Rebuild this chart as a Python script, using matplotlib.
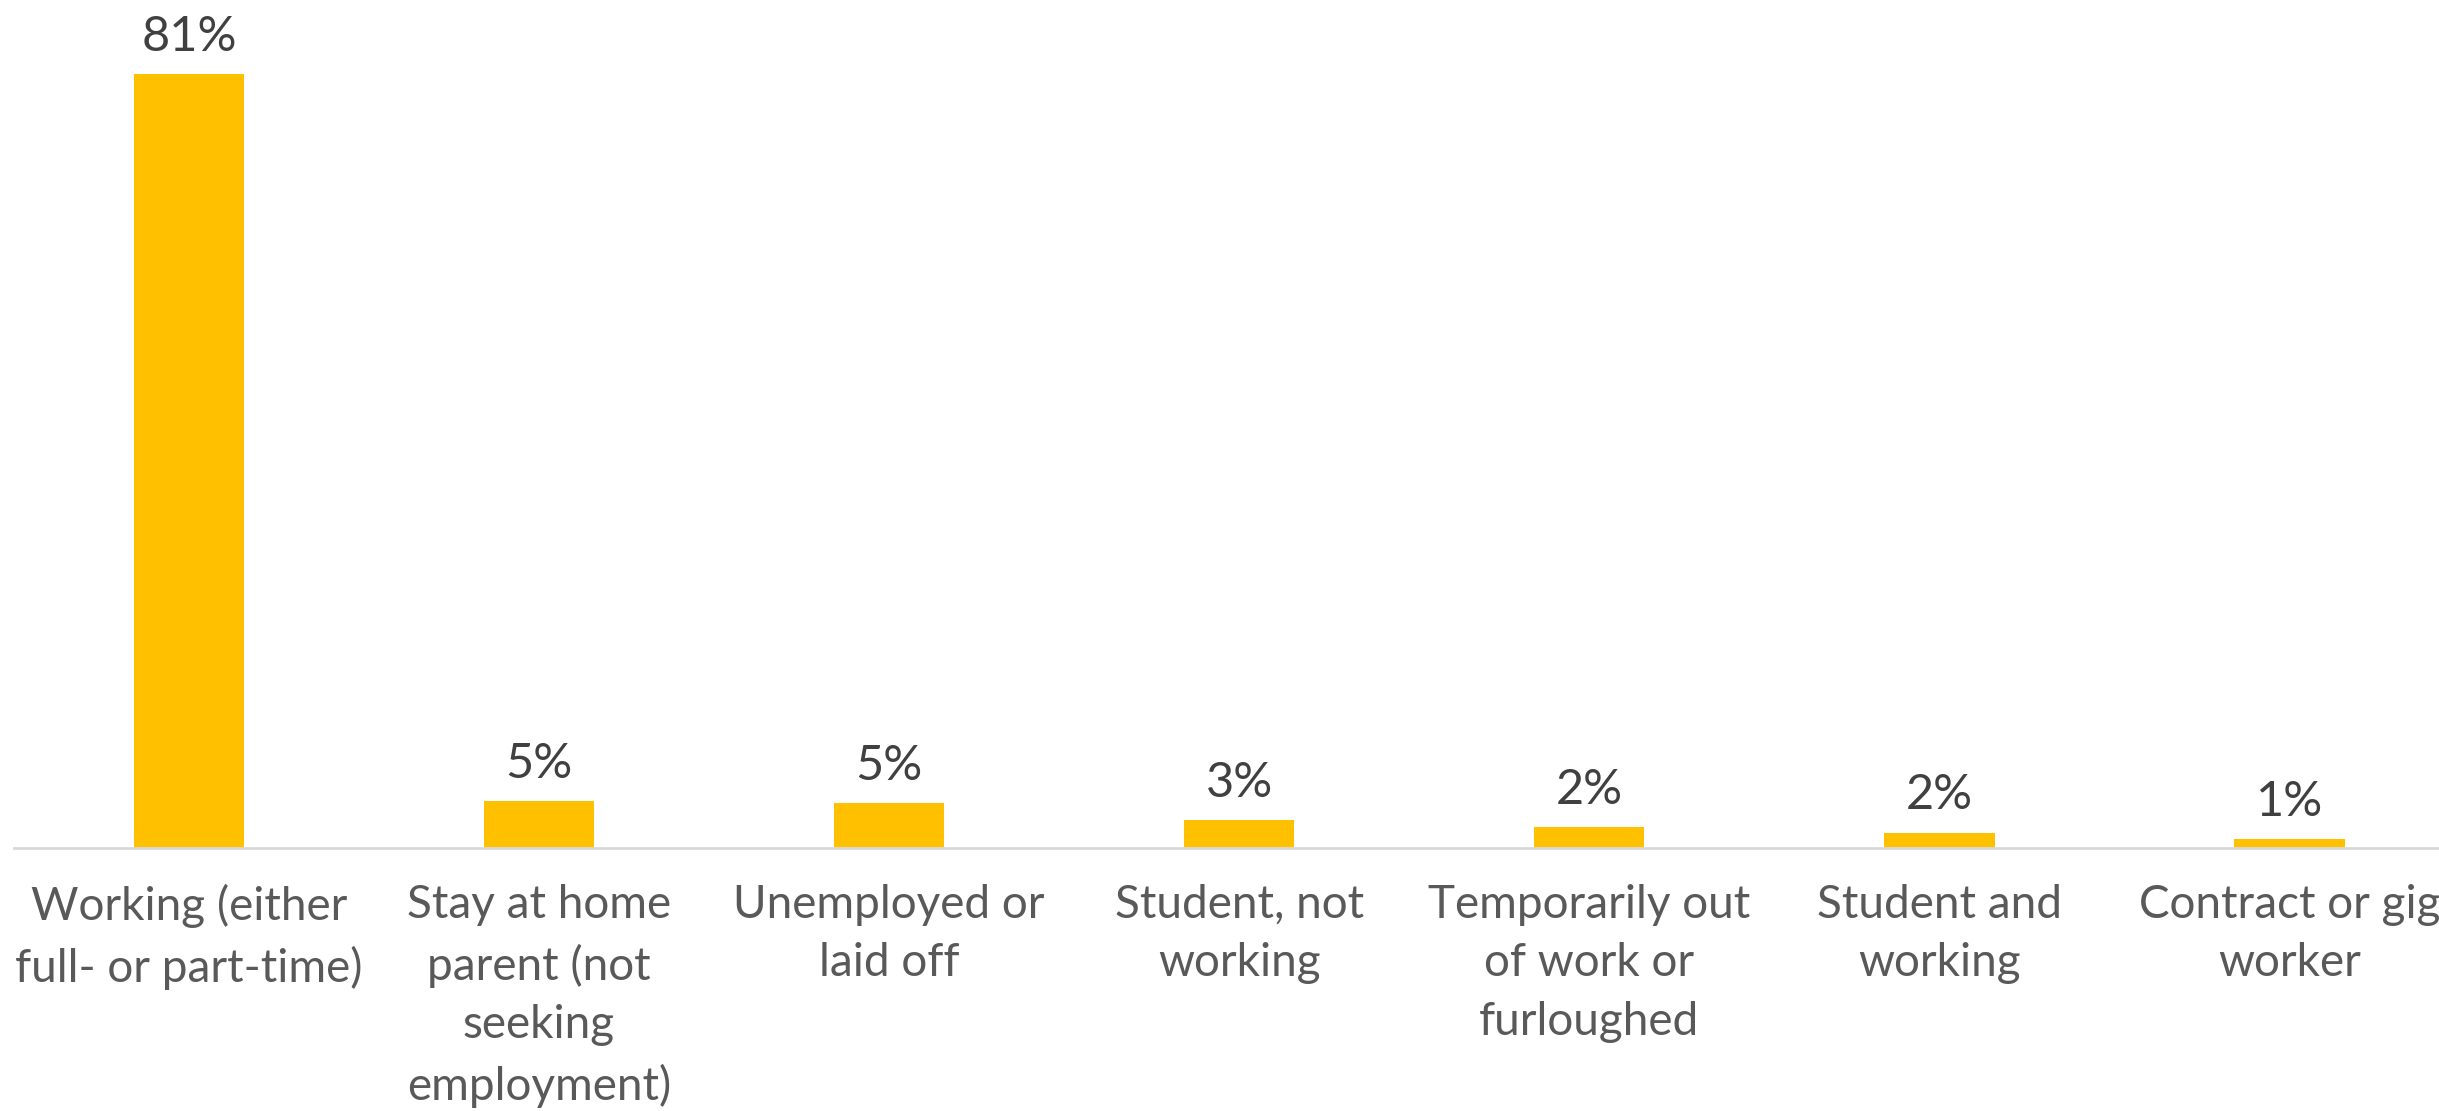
import matplotlib
matplotlib.use("Agg")
import matplotlib.pyplot as plt

# employment status share, in percent
categories = [
    "Working (either\nfull- or part-time)",
    "Stay at home\nparent (not\nseeking\nemployment)",
    "Unemployed or\nlaid off",
    "Student, not\nworking",
    "Temporarily out\nof work or\nfurloughed",
    "Student and\nworking",
    "Contract or gig\nworker",
]
shares = [81.0, 4.9, 4.7, 2.9, 2.2, 1.6, 0.9]

plt.rcParams['font.family'] = ['Lato', 'DejaVu Sans']

fig = plt.figure(figsize=(24.39, 11.11), dpi=100)
ax = fig.add_axes([0.0057, 0.2367, 1.0048, 0.7633])

x = range(len(categories))
bars = ax.bar(x, shares, width=0.315, color="#FFC000")

for b, v in zip(bars, shares):
    ax.annotate("%d%%" % round(v), (b.get_x() + b.get_width() / 2, v),
                xytext=(0, 11), textcoords="offset points",
                ha="center", va="bottom", fontsize=35, color="#404040")

ax.set_xlim(-0.5, len(categories) - 0.5)
ax.set_ylim(0, 88.8)
ax.set_xticks(list(x))
ax.set_xticklabels(categories, fontsize=33, color="#595959", linespacing=1.48)
ax.tick_params(axis="x", length=0, pad=26)
ax.set_yticks([])
for s in ["top", "left", "right"]:
    ax.spines[s].set_visible(False)
ax.spines["bottom"].set_color("#D9D9D9")
ax.spines["bottom"].set_linewidth(2)

fig.savefig("out.png", dpi=100)
